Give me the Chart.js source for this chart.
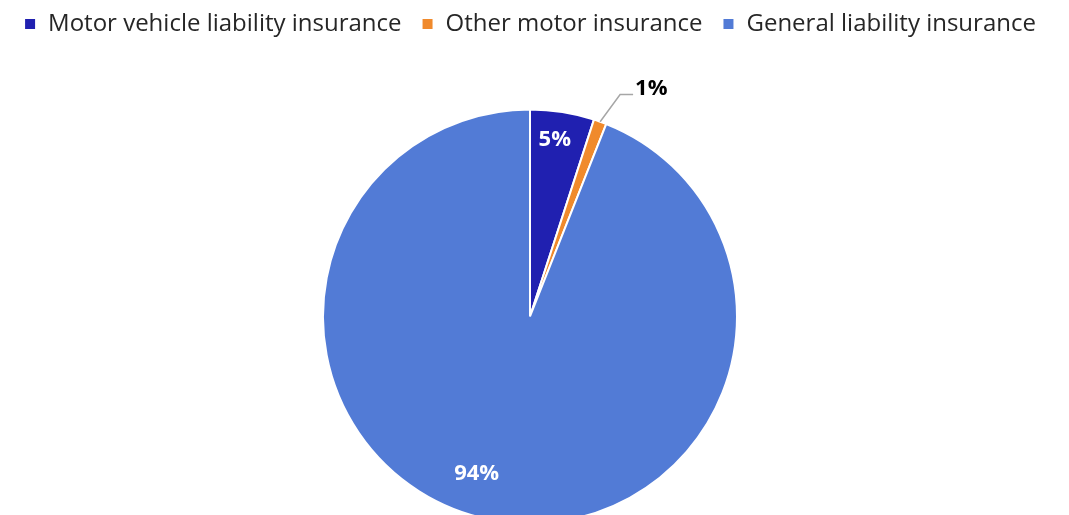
<!DOCTYPE html>
<html>
<head>
<meta charset="utf-8">
<script src="https://cdn.jsdelivr.net/npm/chart.js@4.4.1/dist/chart.umd.min.js"></script>
<style>
  html, body { margin: 0; padding: 0; background: #fff; overflow: hidden; }
  #wrap { position: relative; width: 1069px; height: 640px; }
</style>
</head>
<body>
<div id="wrap"><canvas id="pie"></canvas></div>
<script>
// Share of premiums by line of business (%)
const categories = ['Motor vehicle liability insurance', 'Other motor insurance', 'General liability insurance'];
const shares = [5, 1, 94];
const sliceColors = ['#2020B0', '#F08A2C', '#527BD6'];

// label placement per slice: radius fraction, angle nudge (deg), colour, outside with leader
const labelStyle = [
  { r: 0.86, nudge: -1, color: '#ffffff', outside: false },
  { r: 1.157, nudge: 2.3, color: '#000000', outside: true },
  { r: 0.80, nudge: 8, color: '#ffffff', outside: false },
];

const FONT = '"Open Sans", "Noto Sans", sans-serif';

const sliceLabels = {
  id: 'sliceLabels',
  afterDatasetsDraw(chart) {
    const ctx = chart.ctx;
    const meta = chart.getDatasetMeta(0);
    ctx.save();
    ctx.font = `bold 22px ${FONT}`;
    ctx.textBaseline = 'middle';
    meta.data.forEach((arc, i) => {
      const st = labelStyle[i];
      const { x, y, startAngle, endAngle, outerRadius } = arc.getProps(['x', 'y', 'startAngle', 'endAngle', 'outerRadius'], true);
      const mid = (startAngle + endAngle) / 2;
      const a = mid + st.nudge * Math.PI / 180;
      const text = shares[i] + '%';
      if (st.outside) {
        const ex = x + Math.cos(mid) * outerRadius;
        const ey = y + Math.sin(mid) * outerRadius;
        const lx = x + Math.cos(a) * outerRadius * st.r;
        const ly = y + Math.sin(a) * outerRadius * st.r;
        ctx.strokeStyle = '#A6A6A6';
        ctx.lineWidth = 1.5;
        ctx.beginPath();
        ctx.moveTo(ex, ey);
        ctx.lineTo(lx, ly);
        ctx.lineTo(lx + 13, ly);
        ctx.stroke();
        ctx.fillStyle = st.color;
        ctx.textAlign = 'left';
        ctx.fillText(text, lx + 15, ly - 6);
      } else {
        ctx.fillStyle = st.color;
        ctx.textAlign = 'center';
        ctx.fillText(text, x + Math.cos(a) * outerRadius * st.r, y + Math.sin(a) * outerRadius * st.r);
      }
    });
    ctx.restore();
  },
};

new Chart(document.getElementById('pie'), {
  type: 'pie',
  data: {
    labels: categories,
    datasets: [{
      data: shares,
      backgroundColor: sliceColors,
      borderColor: '#ffffff',
      borderWidth: 2,
      radius: 207,
    }],
  },
  options: {
    responsive: true,
    maintainAspectRatio: false,
    animation: false,
    layout: { padding: { top: -8, bottom: 53, right: 9 } },
    plugins: {
      legend: {
        position: 'top',
        labels: {
          boxWidth: 12,
          boxHeight: 12,
          padding: 20,
          color: '#262626',
          font: { family: FONT, size: 24 },
        },
      },
      tooltip: { enabled: false },
    },
  },
  plugins: [sliceLabels],
});
</script>
</body>
</html>
